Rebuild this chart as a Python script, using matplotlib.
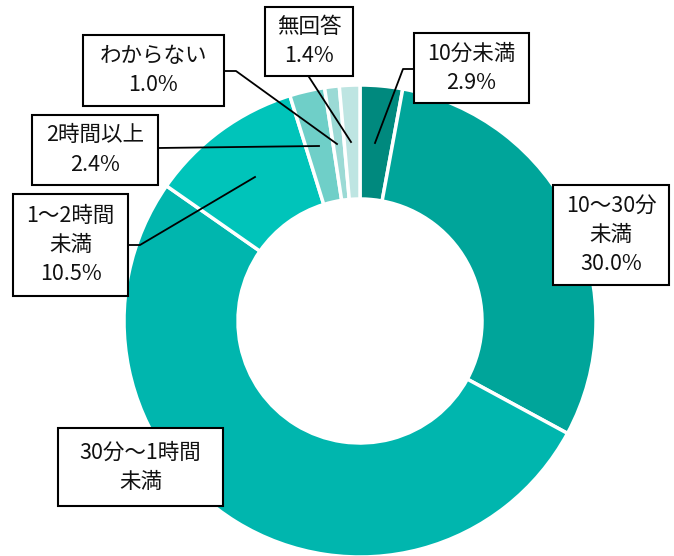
import matplotlib
matplotlib.use("Agg")
import matplotlib.pyplot as plt
from matplotlib.patches import Rectangle

plt.rcParams['font.family'] = ['Noto Sans CJK JP', 'DejaVu Sans']

########################################
#   Data
########################################

categories = ["10分未満", "10～30分未満", "30分～1時間未満", "1～2時間未満",
              "2時間以上", "わからない", "無回答"]
values = [2.9, 30.0, 51.8, 10.5, 2.4, 1.0, 1.4]
label_texts = ["10分未満\n2.9%", "10～30分\n未満\n30.0%", "30分～1時間\n未満",
               "1～2時間\n未満\n10.5%", "2時間以上\n2.4%", "わからない\n1.0%",
               "無回答\n1.4%"]
colors = ["#00897E", "#00A59A", "#00B6AE", "#00C4BA", "#6FCFC8", "#9BDAD5", "#BEE5E2"]

########################################
#   Layout (pixels from top-left)
########################################

W, H = 674, 556
center = (360, 321)
radius = 236
hole = 122

# box: x0, y0, x1, y1
boxes = [(414, 33, 529, 103), (553, 185, 669, 285), (58, 428, 223, 506),
         (13, 194, 128, 296), (32, 115, 158, 185), (83, 35, 224, 106),
         (265, 7, 353, 76)]
leaders = [[(414, 69), (403, 69), (375, 143)],
           None,
           None,
           [(128, 245), (140, 245), (255, 177)],
           [(158, 148), (319, 146)],
           [(224, 71), (236, 71), (337, 144)],
           [(309, 77), (351, 142)]]


def Y(y):
    return H - y


fig = plt.figure(figsize=(W / 100, H / 100), dpi=100)
ax = fig.add_axes([0, 0, 1, 1])
ax.set_xlim(0, W)
ax.set_ylim(0, H)
ax.set_aspect('equal')
ax.axis('off')

ax.pie(values, colors=colors, startangle=90, counterclock=False,
       center=(center[0], Y(center[1])), radius=radius,
       wedgeprops=dict(width=radius - hole, edgecolor='white', linewidth=2.5))
ax.set_xlim(0, W)
ax.set_ylim(0, H)

for i in range(len(categories)):
    x0, y0, x1, y1 = boxes[i]
    ax.add_patch(Rectangle((x0, Y(y1)), x1 - x0, y1 - y0, facecolor='white',
                           edgecolor='black', linewidth=1.5, zorder=3))
    ax.text((x0 + x1) / 2, Y((y0 + y1) / 2), label_texts[i], ha='center', va='center',
            fontsize=15.5, linespacing=1.42, color='#111111', zorder=4)
    if leaders[i]:
        xs = [p[0] for p in leaders[i]]
        ys = [Y(p[1]) for p in leaders[i]]
        ax.plot(xs, ys, color='black', linewidth=1.3, zorder=2.5)

plt.savefig("out.png", dpi=100)
